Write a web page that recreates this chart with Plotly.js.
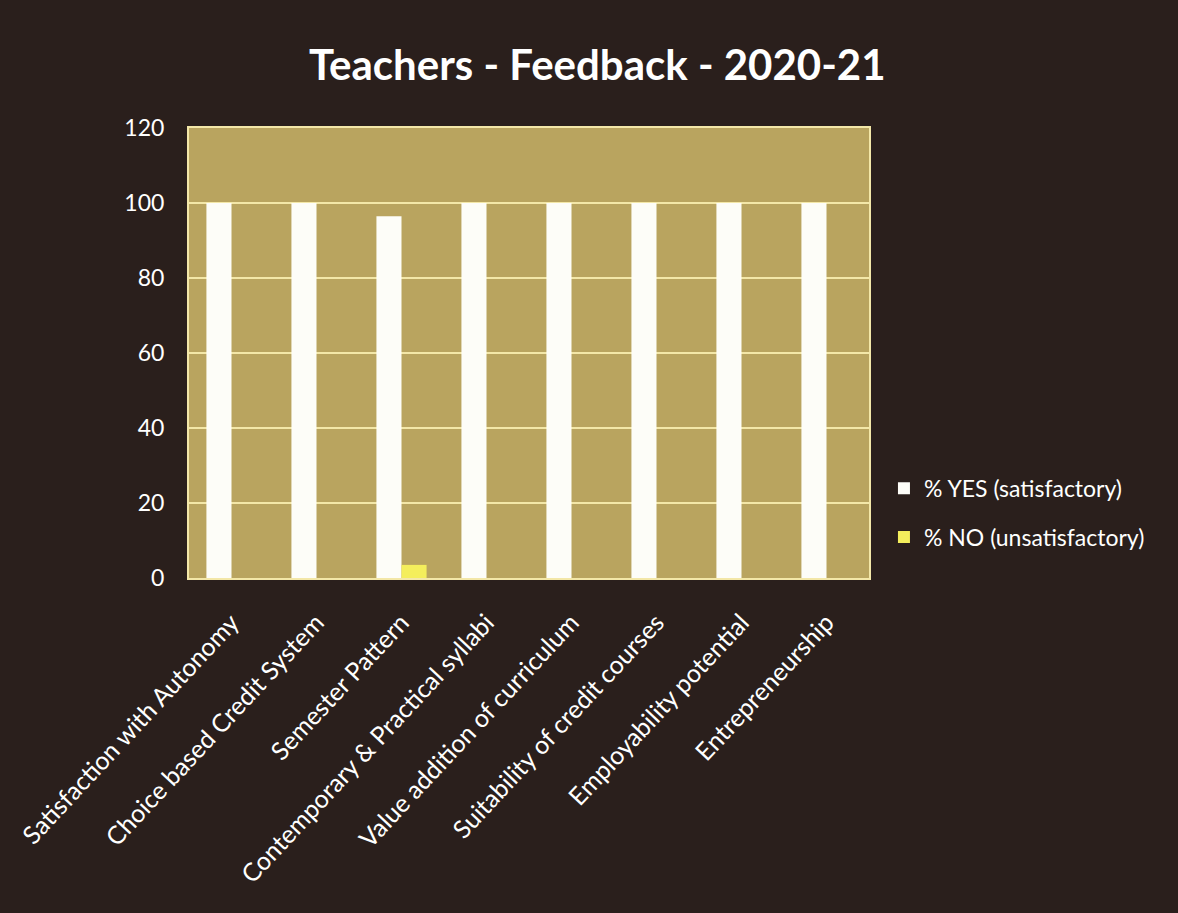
<!DOCTYPE html>
<html>
<head>
<meta charset="utf-8">
<script src="https://cdn.plot.ly/plotly-3.0.1.min.js"></script>
<style>html,body{margin:0;padding:0;background:#2a1f1c;}#chart{width:1178px;height:913px;}</style>
</head>
<body>
<div id="chart"></div>
<script>
const categories = [
  "Satisfaction with Autonomy",
  "Choice based Credit System",
  "Semester Pattern",
  "Contemporary & Practical syllabi",
  "Value addition of curriculum",
  "Suitability of credit courses",
  "Employability potential",
  "Entrepreneurship"
];
const yesValues = [100, 100, 96.5, 100, 100, 100, 100, 100];
const noValues = [0, 0, 3.5, 0, 0, 0, 0, 0];
const seriesNames = ["% YES (satisfactory)", "% NO (unsatisfactory)"];
const yTicks = [0, 20, 40, 60, 80, 100, 120];

const font = "Lato, 'Open Sans', sans-serif";
const data = [
  {type: "bar", x: categories, y: yesValues, name: seriesNames[0], legendgroup: "yes",
   marker: {color: "#fdfdf8"}},
  {type: "bar", x: categories, y: noValues, name: seriesNames[1], legendgroup: "no",
   marker: {color: "#f4ee5c"}}
];
const layout = {
  width: 1178, height: 913,
  paper_bgcolor: "#2a1f1c",
  plot_bgcolor: "#b9a45f",
  margin: {l: 189, r: 309, t: 128, b: 335},
  title: {text: "Teachers - Feedback - 2020-21", x: 0.507, xanchor: "center",
          y: 0.928, yanchor: "middle",
          font: {family: font, size: 42, color: "#ffffff", weight: "bold"}},
  barmode: "group",
  bargap: 0.41,
  bargroupgap: 0,
  xaxis: {
    tickangle: -47,
    tickfont: {family: font, size: 25, color: "#ffffff"},
    showline: true, linecolor: "#f3e7a8", linewidth: 2, mirror: true,
    ticks: "outside", ticklen: 18, tickcolor: "rgba(0,0,0,0)", showgrid: false
  },
  yaxis: {
    range: [0, 120], tickvals: yTicks,
    tickfont: {family: font, size: 23, color: "#ffffff"},
    showgrid: true, gridcolor: "#f3e7a8", gridwidth: 2,
    showline: true, linecolor: "#f3e7a8", linewidth: 2, mirror: true,
    zeroline: false, ticks: "outside", ticklen: 18, tickcolor: "rgba(0,0,0,0)"
  },
  legend: {
    x: 1.022, xanchor: "left", y: 0.145, yanchor: "middle",
    font: {family: font, size: 23, color: "#ffffff"},
    bgcolor: "rgba(0,0,0,0)", tracegroupgap: 16, itemwidth: 30
  },
  showlegend: true
};
Plotly.newPlot("chart", data, layout, {displayModeBar: false, staticPlot: true});
</script>
</body>
</html>
